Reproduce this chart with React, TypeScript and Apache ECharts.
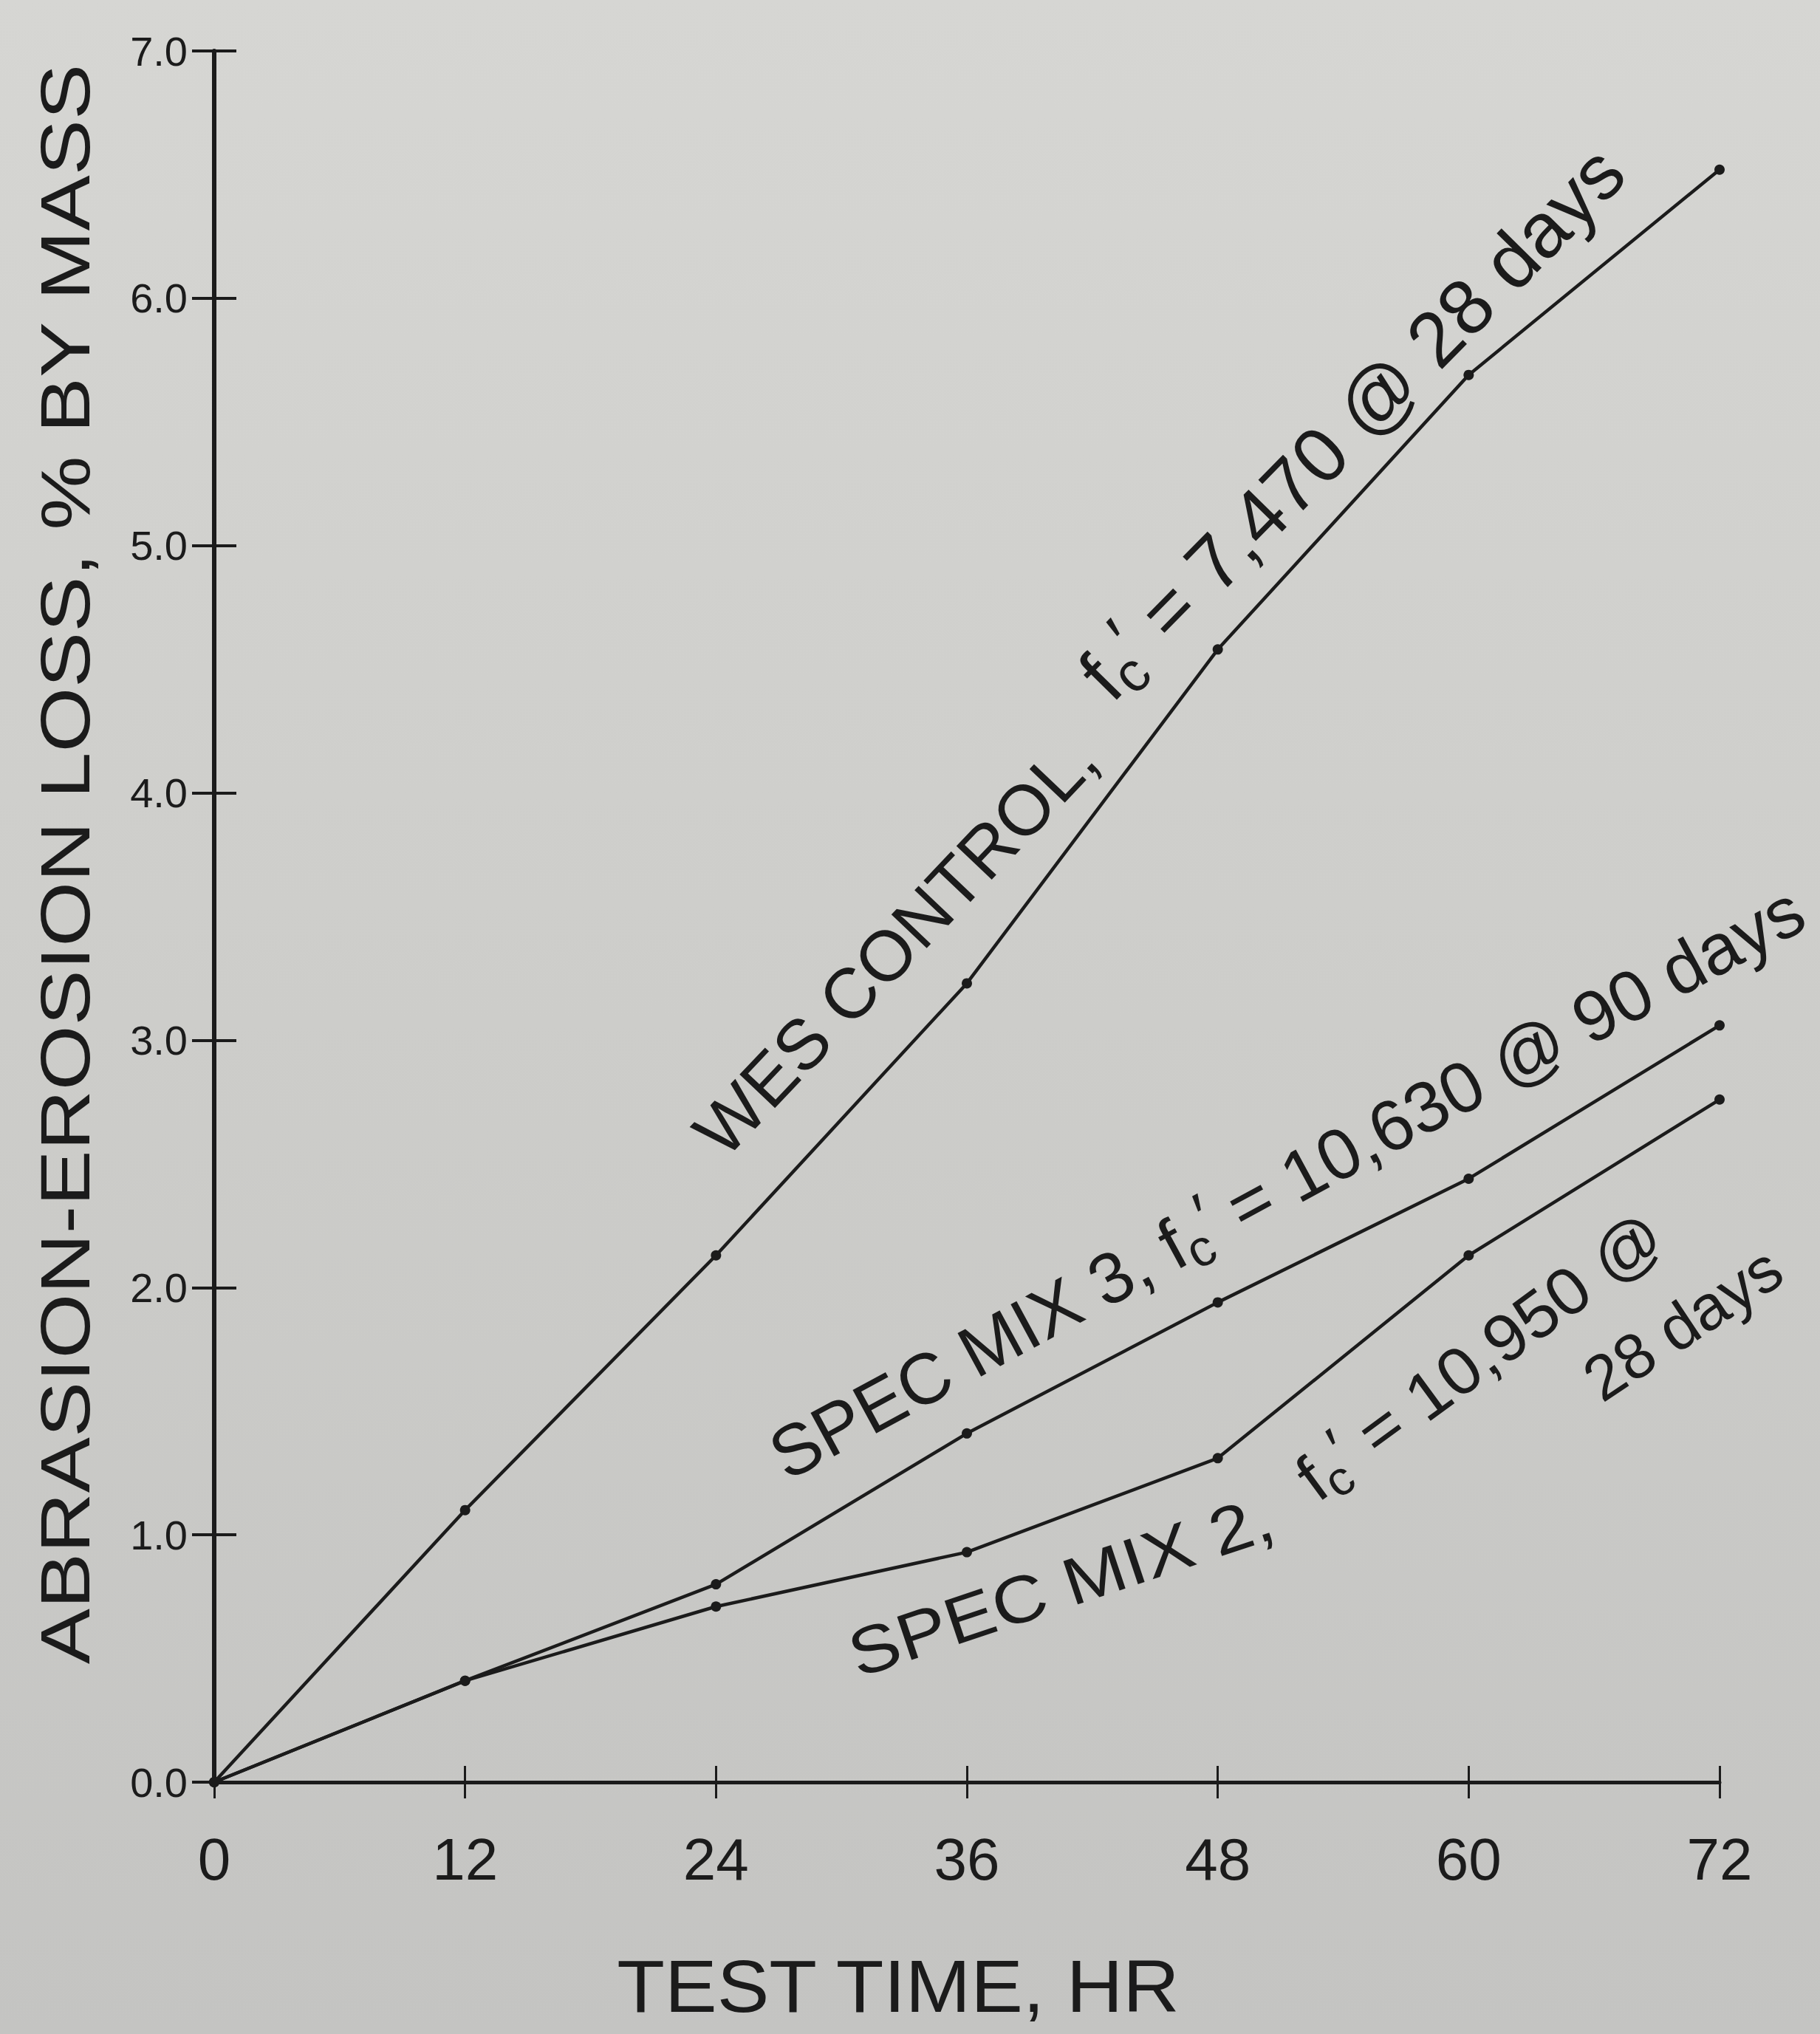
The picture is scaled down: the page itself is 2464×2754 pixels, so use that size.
import React, { useEffect, useRef } from "react";
import * as echarts from "echarts";

const hours = [0, 12, 24, 36, 48, 60, 72];
const wesControl = [0, 1.1, 2.13, 3.23, 4.58, 5.69, 6.52];
const specMix3 = [0, 0.41, 0.8, 1.41, 1.94, 2.44, 3.06];
const specMix2 = [0, 0.41, 0.71, 0.93, 1.31, 2.13, 2.76];
const xTickLabels = ["0", "12", "24", "36", "48", "60", "72"];
const yTickLabels = ["0.0", "1.0", "2.0", "3.0", "4.0", "5.0", "6.0", "7.0"];
const xTitle = "TEST TIME, HR";
const yTitle = "ABRASION-EROSION LOSS, % BY MASS";

const INK = "#1b1b1b";
const FONT = "Liberation Sans";

function pairs(ys: number[]) {
  return hours.map((h, i) => [h, ys[i]]);
}

function fcLabel(pre: string, post: string) {
  return `{t|${pre}f}{s|c}{p|′}{t|${post}}`;
}

function richFor(size: number) {
  return {
    t: { fontSize: size, fontFamily: FONT, fill: INK, lineHeight: size * 1.2, verticalAlign: "middle" },
    s: { fontSize: size * 0.72, fontFamily: FONT, fill: INK, lineHeight: size * 1.2, verticalAlign: "bottom" },
    p: { fontSize: size * 0.9, fontFamily: FONT, fill: INK, lineHeight: size * 1.2, verticalAlign: "top" },
  };
}

function annot(
  x: number,
  y: number,
  deg: number,
  size: number,
  text: string,
  rich = true,
  sx = 1
) {
  return {
    type: "text",
    x,
    y,
    rotation: (deg * Math.PI) / 180,
    scaleX: sx,
    scaleY: 1,
    style: {
      text,
      fontSize: size,
      fontFamily: FONT,
      fill: INK,
      align: "center",
      verticalAlign: "middle",
      rich: rich ? richFor(size) : undefined,
    },
    z: 10,
  };
}

export default function App() {
  const ref = useRef<HTMLDivElement>(null);
  useEffect(() => {
    if (!ref.current) return;
    const chart = echarts.init(ref.current, null, { renderer: "svg" });
    const lineStyle = { color: INK, width: 4.5 };
    const seriesBase = {
      type: "line",
      symbol: "circle",
      symbolSize: 14,
      itemStyle: { color: INK },
      lineStyle,
      xAxisIndex: 0,
      yAxisIndex: 0,
    };
    chart.setOption({
      animation: false,
      backgroundColor: "transparent",
      grid: { left: 290, top: 69, width: 2038, height: 2344 },
      xAxis: [
        {
          type: "value",
          min: 0,
          max: 72,
          interval: 12,
          position: "bottom",
          axisLine: { show: true, lineStyle: { color: INK, width: 5 } },
          axisTick: { show: true, inside: true, length: 22, lineStyle: { color: INK, width: 3 } },
          axisLabel: {
            margin: 64,
            fontSize: 80,
            fontFamily: FONT,
            color: INK,
            formatter: (v: number) => xTickLabels[Math.round(v / 12)] ?? "",
          },
          splitLine: { show: false },
        },
        {
          type: "value",
          min: 0,
          max: 72,
          interval: 12,
          position: "bottom",
          axisLine: { show: false },
          axisTick: { show: true, inside: false, length: 22, lineStyle: { color: INK, width: 3 } },
          axisLabel: { show: false },
          splitLine: { show: false },
        },
      ],
      yAxis: [
        {
          type: "value",
          min: 0,
          max: 7,
          interval: 1,
          position: "left",
          axisLine: { show: true, lineStyle: { color: INK, width: 6 } },
          axisTick: { show: true, inside: false, length: 30, lineStyle: { color: INK, width: 4 } },
          axisLabel: {
            margin: 36,
            fontSize: 56,
            fontFamily: FONT,
            color: INK,
            formatter: (v: number) => yTickLabels[Math.round(v)] ?? "",
          },
          splitLine: { show: false },
        },
        {
          type: "value",
          min: 0,
          max: 7,
          interval: 1,
          position: "left",
          axisLine: { show: false },
          axisTick: { show: true, inside: true, length: 30, lineStyle: { color: INK, width: 4 } },
          axisLabel: { show: false },
          splitLine: { show: false },
        },
      ],
      series: [
        { ...seriesBase, name: "WES CONTROL", data: pairs(wesControl) },
        { ...seriesBase, name: "SPEC MIX 3", data: pairs(specMix3) },
        { ...seriesBase, name: "SPEC MIX 2", data: pairs(specMix2) },
      ],
      graphic: [
        annot(1212, 1280, 46.5, 96, "WES CONTROL,", false),
        annot(1830, 572, 45.5, 105, fcLabel("", " = 7,470 @ 28 days")),
        annot(1742, 1601, 28.5, 97, fcLabel("SPEC MIX 3, ", " = 10,630 @ 90 days")),
        annot(1436, 2147, 18.5, 90, "SPEC MIX 2,", false, 1.13),
        annot(2003, 1836, 36.3, 90, fcLabel("", " = 10,950 @"), true, 1.04),
        annot(2278, 1792, 33.7, 86, "28 days", false),
        annot(1216, 2690, 0, 100, xTitle, false, 1.06),
        annot(88, 1170, 90, 94, yTitle, false, 1.2),
      ],
    });
    return () => chart.dispose();
  }, []);
  return (
    <div
      style={{
        position: "absolute",
        left: 0,
        top: 0,
        width: 2464,
        height: 2754,
        background: "linear-gradient(180deg, #d6d6d3 0%, #cdcdca 50%, #c4c4c2 100%)",
      }}
    >
      <div ref={ref} style={{ width: 2464, height: 2754 }} />
    </div>
  );
}
